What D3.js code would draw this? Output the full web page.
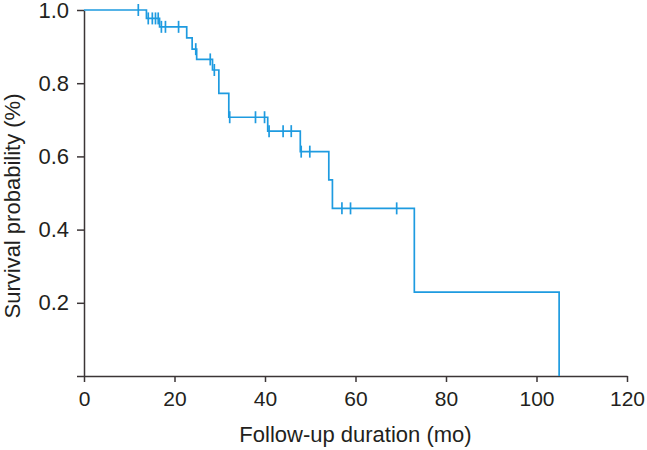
<!DOCTYPE html>
<html>
<head>
<meta charset="utf-8">
<script src="https://cdn.jsdelivr.net/npm/d3@7"></script>
<style>
  body { margin: 0; background: #fff; }
  .axis text { font-family: "Liberation Sans", Arial, sans-serif; font-size: 21px; fill: #231f20; }
  .axis.y text { font-size: 22px; }
  .axis path, .axis line { stroke: #3b3536; stroke-width: 1.5; }
  .title { font-family: "Liberation Sans", Arial, sans-serif; font-size: 22px; fill: #231f20; }
</style>
</head>
<body>
<svg id="chart" width="647" height="450"></svg>
<script>
// Kaplan-Meier step curve: time (mo) where survival drops, and the new level
var stepTimes = [0, 13.8, 16.7, 22.7, 23.9, 24.9, 28.4, 29.8, 32.0, 40.6, 47.8, 54.1, 54.9, 73.0, 105.0];
var stepSurv  = [1.0, 0.977, 0.954, 0.924, 0.893, 0.865, 0.836, 0.772, 0.707, 0.669, 0.613, 0.536, 0.458, 0.229, 0];
// censored observations (tick marks)
var censorTimes = [12.0, 14.2, 15.1, 15.8, 16.4, 17.1, 18.0, 20.9, 24.7, 27.9, 28.8, 32.2, 37.9, 39.9, 40.9, 44.0, 45.8, 48.0, 49.9, 57.0, 58.9, 69.1];
var xTicks = [0, 20, 40, 60, 80, 100, 120];
var yTicks = [0, 0.2, 0.4, 0.6, 0.8, 1.0];

var svg = d3.select("#chart"),
    plotLeft = 84, plotRight = 627, plotTop = 10, plotBottom = 376;

var x = d3.scaleLinear().domain([0, 120]).range([plotLeft, plotRight]);
var y = d3.scaleLinear().domain([0, 1]).range([plotBottom, plotTop]);

var pts = stepTimes.map(function(t, i) { return {time: t, surv: stepSurv[i]}; });

function survAt(t) {
  var s = stepSurv[0];
  for (var i = 0; i < stepTimes.length; i++) {
    if (stepTimes[i] <= t) s = stepSurv[i];
  }
  return s;
}

svg.append("g")
    .attr("class", "axis x")
    .attr("transform", "translate(0," + plotBottom + ")")
    .call(d3.axisBottom(x).tickValues(xTicks).tickSize(6).tickSizeOuter(0).tickPadding(9))
  .selectAll("text").attr("dy", "0.71em");

svg.append("g")
    .attr("class", "axis y")
    .attr("transform", "translate(" + plotLeft + ",0)")
    .call(d3.axisLeft(y).tickValues(yTicks).tickSize(7).tickSizeOuter(0).tickPadding(8)
      .tickFormat(function(d) { return d === 0 ? "" : d3.format(".1f")(d); }));

var line = d3.line()
    .curve(d3.curveStepAfter)
    .x(function(d) { return x(d.time); })
    .y(function(d) { return y(d.surv); });

svg.append("path")
    .attr("fill", "none")
    .attr("stroke", "#1e9be0")
    .attr("stroke-width", 1.7)
    .attr("d", line(pts));

svg.selectAll(".censor")
  .data(censorTimes)
  .enter().append("line")
    .attr("class", "censor")
    .attr("x1", function(d) { return x(d); })
    .attr("x2", function(d) { return x(d); })
    .attr("y1", function(d) { return y(survAt(d)) - 6; })
    .attr("y2", function(d) { return y(survAt(d)) + 6; })
    .attr("stroke", "#1e9be0")
    .attr("stroke-width", 1.7);

svg.append("text")
    .attr("class", "title")
    .attr("x", (plotLeft + plotRight) / 2)
    .attr("y", 442)
    .attr("text-anchor", "middle")
    .text("Follow-up duration (mo)");

svg.append("text")
    .attr("class", "title")
    .attr("transform", "translate(20,206) rotate(-90)")
    .attr("text-anchor", "middle")
    .text("Survival probability (%)");
</script>
</body>
</html>
